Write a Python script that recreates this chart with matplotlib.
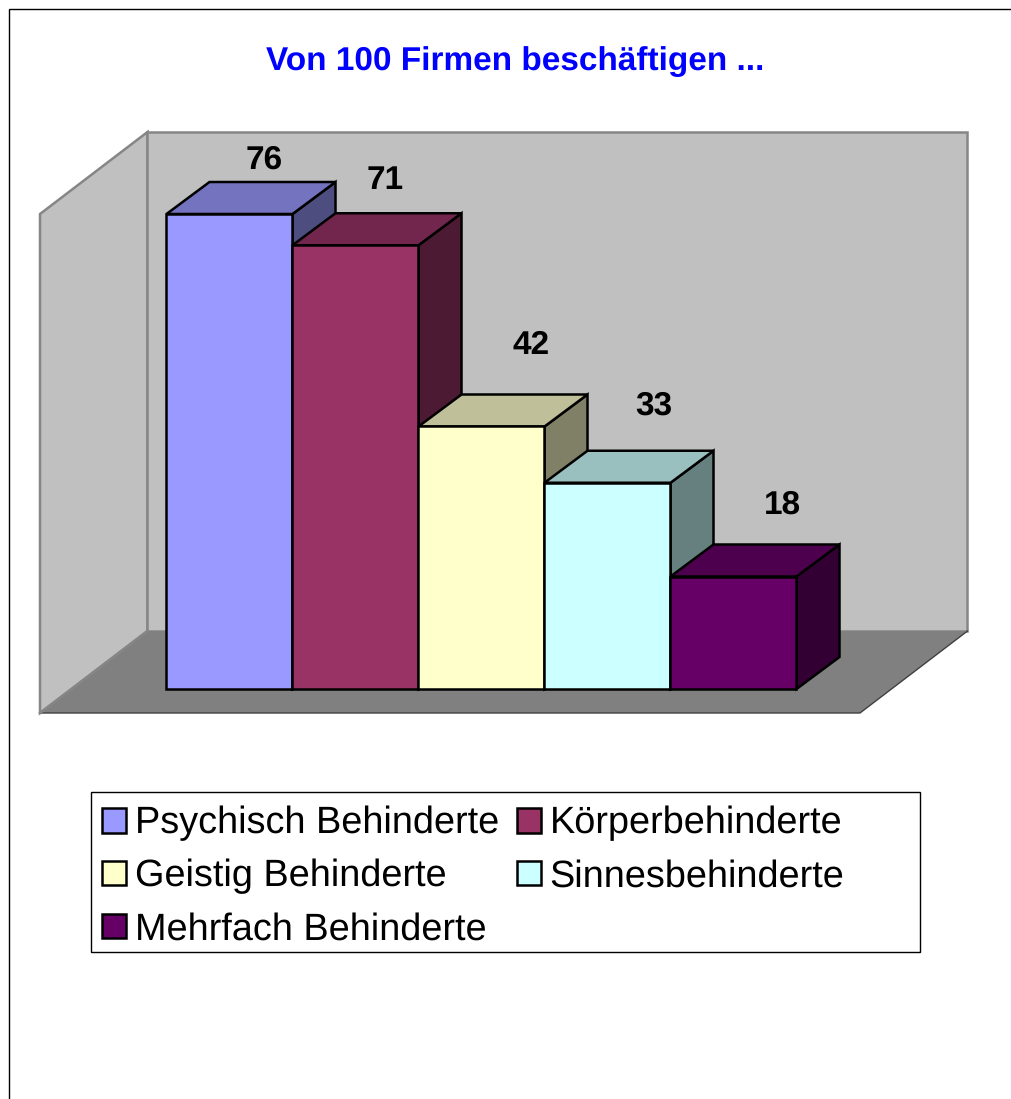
import matplotlib
matplotlib.use('Agg')
import matplotlib.pyplot as plt
from matplotlib.patches import Polygon, Patch, Rectangle
from matplotlib.colors import to_rgb

plt.rcParams['font.family'] = ['Liberation Sans', 'DejaVu Sans']
plt.rcParams['text.hinting'] = 'no_hinting'

categories = ['Psychisch Behinderte', 'Körperbehinderte', 'Geistig Behinderte',
              'Sinnesbehinderte', 'Mehrfach Behinderte']
values = [76, 71, 42, 33, 18]
colors = ['#9999FF', '#993366', '#FFFFCC', '#CCFFFF', '#660066']
title = 'Von 100 Firmen beschäftigen ...'

W, H = 1012, 1099
# one bar is 126 px wide, one value unit is 6.25 px high, base line at y=689
PX_X, PX_Y = 126.0, 6.25
X0, Y0 = 166.5, 689.0
# depth of the 3d box
DX, DY = 43 / PX_X, 32 / PX_Y
# offset of the value labels from the bar (px)
label_dx = [98, 93, 113, 109, 112]
label_dy = [54, 65, 81, 77, 71]


def shade(c, f):
    return tuple(v * f for v in to_rgb(c))


fig = plt.figure(figsize=(W / 100, H / 100), dpi=100)
ax = fig.add_axes([0, 0, 1, 1])
ax.set_xlim(-X0 / PX_X, (W - X0) / PX_X)
ax.set_ylim((Y0 - H) / PX_Y, Y0 / PX_Y)
ax.axis('off')

# pixel transform for the things which are not data
px = matplotlib.transforms.Affine2D().scale(1, -1).translate(0, H)

# outer frame, right and bottom run off the picture
ax.add_patch(Rectangle((8.5, 9.0), W, H, fc='white', ec='black', lw=1.0, transform=px))

# walls and floor
x_left = (40 - X0) / PX_X
x_right = (860 - X0) / PX_X
y_floor = -24 / PX_Y
y_top = (689 - 214) / PX_Y
wd, hd = 107.5 / PX_X, 82 / PX_Y
wall = dict(fc='#C0C0C0', ec='#868686', lw=1.8, joinstyle='miter')
ax.add_patch(Polygon([(x_left, y_floor), (x_left, y_top), (x_left + wd, y_top + hd),
                      (x_left + wd, y_floor + hd)], **wall))
ax.add_patch(Polygon([(x_left + wd, y_floor + hd), (x_left + wd, y_top + hd),
                      (x_right + wd, y_top + hd), (x_right + wd, y_floor + hd)], **wall))
ax.add_patch(Polygon([(x_left, y_floor), (x_left + wd, y_floor + hd),
                      (x_right + wd, y_floor + hd), (x_right, y_floor)],
                     fc='#808080', ec='none'))
ax.plot([x_left, x_right, x_right + wd], [y_floor, y_floor, y_floor + hd], color='#404040', lw=1.0)
ax.plot([x_left, x_left + wd], [y_floor, y_floor + hd], color='#868686', lw=1.8)

# boxes
edge = dict(ec='black', lw=1.8, joinstyle='miter')
for i, (v, c) in enumerate(zip(values, colors)):
    ax.add_patch(Polygon([(i + 1, 0), (i + 1 + DX, DY), (i + 1 + DX, v + DY), (i + 1, v)],
                         fc=shade(c, 0.5), **edge))
    ax.add_patch(Polygon([(i, v), (i + DX, v + DY), (i + 1 + DX, v + DY), (i + 1, v)],
                         fc=shade(c, 0.75), **edge))
    ax.bar(i, v, width=1, align='edge', color=c, edgecolor='black', linewidth=1.8)
    ax.text(X0 + i * PX_X + label_dx[i], Y0 - v * PX_Y - label_dy[i], str(v), transform=px,
            ha='center', va='center', fontsize=24, fontweight='bold', color='black')

ax.set_xlim(-X0 / PX_X, (W - X0) / PX_X)
ax.set_ylim((Y0 - H) / PX_Y, Y0 / PX_Y)

ax.text(515, 62, title, transform=px, ha='center', va='center',
        fontsize=24, fontweight='bold', color='#0000FF')

# legend box is wider than its content, so it gets its own rectangle
ax.add_patch(Rectangle((91, 792), 829, 160, fc='white', ec='black', lw=1.0, transform=px))

# legend fills column by column, reference reads row by row
order = [0, 2, 4, 1, 3]
handles = [Patch(fc=colors[i], ec='black', lw=1.8) for i in order]
labels = [categories[i] for i in order]
ax.legend(handles, labels, ncol=2, loc='upper left',
          bbox_to_anchor=(102.5 / W, 1 - 806 / H), bbox_transform=fig.transFigure,
          fontsize=27.3, frameon=False, borderaxespad=0, borderpad=0, labelspacing=0.46,
          handlelength=0.63, handleheight=0.63, handletextpad=0.24, columnspacing=0.45)

fig.savefig('out.png', dpi=100)
